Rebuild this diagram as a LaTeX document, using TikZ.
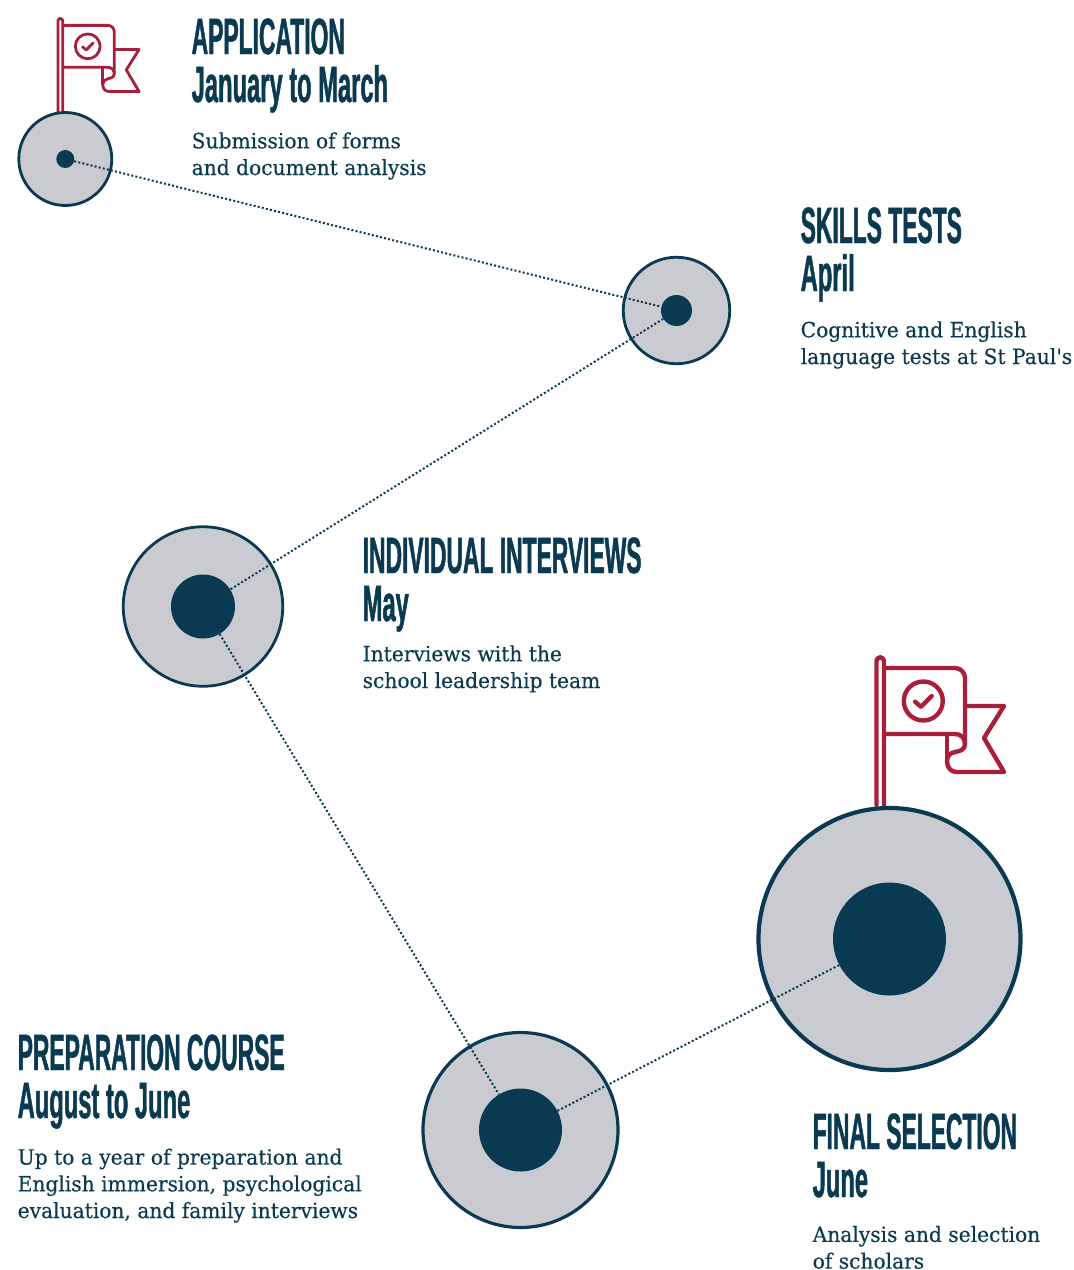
\documentclass[tikz,border=0pt]{standalone}
\usepackage{fontspec}
\setmainfont{DejaVu Serif}
\newfontfamily\headfont[FakeStretch=0.448,FakeBold=0.9]{Liberation Sans Bold}
\newfontfamily\datefont[FakeStretch=0.465,FakeBold=0.9]{Liberation Sans Bold}
\newfontfamily\bodyfont[FakeStretch=0.963,FakeBold=0.3]{DejaVu Serif}
\newcommand{\dateline}[1]{{\datefont\fontsize{51}{48}\selectfont #1}}
\definecolor{navy}{HTML}{0A3A52}
\definecolor{disc}{HTML}{C9CBD1}
\definecolor{flagred}{HTML}{A91E3A}
\tikzset{
  x=1pt,y=-1pt,
  outer/.style={circle,draw=navy,fill=disc,inner sep=0pt},
  core/.style={circle,fill=navy,inner sep=0pt},
  link/.style={draw=navy,line width=2pt,dash pattern=on 2pt off 2.2pt},
  headtxt/.style={anchor=base west,inner sep=0pt,align=left,text=navy,font=\headfont\fontsize{51}{48}\selectfont},
  bodytxt/.style={anchor=base west,inner sep=0pt,align=left,text=navy,font=\bodyfont\fontsize{21}{26.7}\selectfont},
  flagline/.style={draw=flagred,line width=#1,line join=round,line cap=round,fill=none},
}
\newcommand{\flagicon}[4]{%
 \begin{scope}[shift={(#1,#2)},scale=#3,flagline=#4]
  \draw (876.5,805) -- (876.5,661) arc[start angle=180,end angle=360,radius=3.75] -- (884,805);
  \draw (884,668) -- (955,668) arc[start angle=270,end angle=360,radius=10] -- (965,744)
        .. controls (965,750) and (960,751) .. (955,752) .. controls (950,753) and (947,756) .. (947,761)
        .. controls (947,768) and (951,772) .. (957,772) -- (1004,772) -- (984,738) -- (1004,706) -- (965,706);
  \draw (884,734) -- (955,734) .. controls (961,734) and (965,738) .. (965,744);
  \draw (947,734) -- (947,761);
  \draw (923.3,701) circle[radius=19.5];
  \draw (915,701.7) -- (921,706.7) -- (931.7,696);
 \end{scope}}
\begin{document}
\begin{tikzpicture}
\useasboundingbox (0,0) rectangle (1074,1270);
\flagicon{-499.5}{-399.5}{0.636}{2.8pt}
\flagicon{0}{0}{1}{4.4pt}
\node[outer,line width=2.8pt,minimum size=93pt] (o1) at (65.3,159) {};
\node[outer,line width=2.8pt,minimum size=106.5pt] (o2) at (676.5,310.5) {};
\node[outer,line width=2.8pt,minimum size=159.5pt] (o3) at (203,606.5) {};
\node[outer,line width=3.2pt,minimum size=195pt] (o4) at (520.5,1130) {};
\node[outer,line width=4.2pt,minimum size=262pt] (o5) at (889.5,939) {};
\node[core,minimum size=18pt] (c1) at (65.3,159) {};
\node[core,minimum size=31pt] (c2) at (676.5,310.5) {};
\node[core,minimum size=64pt] (c3) at (203,606.5) {};
\node[core,minimum size=83pt] (c4) at (520.5,1130) {};
\node[core,minimum size=113pt] (c5) at (889.5,939) {};
\draw[link] (c1) -- (c2);
\draw[link] (c2) -- (c3);
\draw[link] (c3) -- (c4);
\draw[link] (c4) -- (c5);
\node[headtxt] (h1) at (191.5,102) {APPLICATION\\\dateline{January to March}};
\node[bodytxt] (b1) at (191.5,175) {Submission of forms\\and document analysis};
\node[headtxt] (h2) at (800.5,291) {SKILLS TESTS\\\dateline{April}};
\node[bodytxt] (b2) at (800.5,364) {Cognitive and English\\language tests at St Paul's};
\node[headtxt] (h3) at (362.5,621) {INDIVIDUAL INTERVIEWS\\\dateline{May}};
\node[bodytxt] (b3) at (362.5,688) {Interviews with the\\school leadership team};
\node[headtxt] (h4) at (17.5,1118) {PREPARATION COURSE\\\dateline{August to June}};
\node[bodytxt] (b4) at (17.5,1218) {Up to a year of preparation and\\English immersion, psychological\\evaluation, and family interviews};
\node[headtxt] (h5) at (812.5,1197) {FINAL SELECTION\\\dateline{June}};
\node[bodytxt] (b5) at (812.5,1268.6) {Analysis and selection\\of scholars};
\end{tikzpicture}
\end{document}
